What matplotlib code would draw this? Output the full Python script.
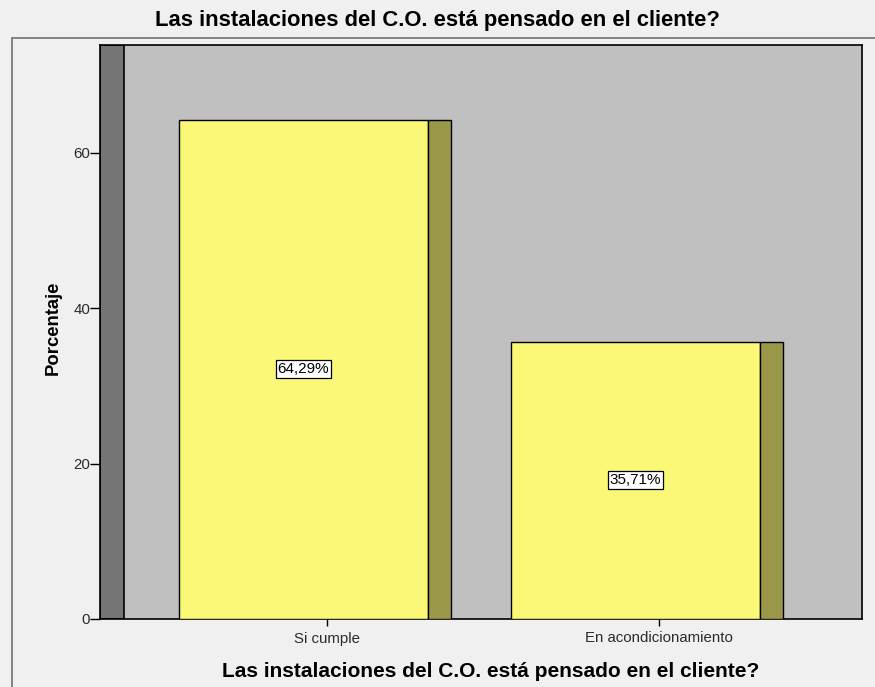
import matplotlib
matplotlib.use("Agg")
import matplotlib.pyplot as plt
from matplotlib.patches import Rectangle

categorias = ["Si cumple", "En acondicionamiento"]
porcentajes = [64.29, 35.71]
etiquetas = ["64,29%", "35,71%"]
yticks = [0, 20, 40, 60]
titulo = "Las instalaciones del C.O. está pensado en el cliente?"

plt.rcParams["font.family"] = ["Liberation Sans", "DejaVu Sans"]

fig = plt.figure(figsize=(8.75, 6.87), dpi=100, facecolor="#f0f0f0")
W, H = 875, 687
ax = fig.add_axes([100 / W, 1 - 619 / H, 762 / W, (619 - 45) / H])
ax.set_facecolor("#c0c0c0")

frente = 0.750   # ancho de la cara frontal
lado = 0.069     # ancho de la cara lateral (efecto 3D)
desfase = 0.446  # la barra empieza a la izquierda de la marca
xmin, xmax = -0.684, 1.611
ymax = 73.9
ax.set_xlim(xmin, xmax)
ax.set_ylim(0, ymax)

# pared izquierda oscura
ax.add_patch(Rectangle((xmin, 0), 0.072, ymax, facecolor="#757575",
                       edgecolor="black", linewidth=1.2, zorder=2))

for i, (v, txt) in enumerate(zip(porcentajes, etiquetas)):
    x0 = i - desfase
    ax.bar(x0, v, width=frente, align="edge", color="#fbf877",
           edgecolor="black", linewidth=1.0, zorder=3)
    ax.bar(x0 + frente, v, width=lado, align="edge", color="#9b984a",
           edgecolor="black", linewidth=1.0, zorder=3)
    ax.text(x0 + frente / 2, v / 2, txt, ha="center", va="center",
            fontsize=11, color="black", zorder=4,
            bbox=dict(boxstyle="square,pad=0.12", facecolor="white",
                      edgecolor="black", linewidth=0.9))

ax.set_yticks(yticks)
ax.set_xticks(range(len(categorias)))
ax.set_xticklabels(categorias, fontsize=10.8, color="#2a2a2a")
ax.tick_params(axis="y", length=7, width=1, labelsize=10.8, pad=0,
               labelcolor="#2a2a2a")
ax.tick_params(axis="x", length=5, width=1, pad=4)
for s in ax.spines.values():
    s.set_linewidth(1.2)
    s.set_color("black")

ax.set_ylabel("Porcentaje", fontsize=13.3, fontweight="bold")
ax.yaxis.set_label_coords(-0.050, 0.507)
ax.set_xlabel(titulo, fontsize=15, fontweight="bold", va="center")
ax.xaxis.set_label_coords(0.513, -0.0906)
fig.text(437 / W, 1 - 20.5 / H, titulo, ha="center", va="center",
         fontsize=15.8, fontweight="bold")

# marco exterior
fig.add_artist(Rectangle((12 / W, -0.05), 1.1, 1 - 38 / H + 0.05,
                         transform=fig.transFigure, fill=False,
                         edgecolor="#707070", linewidth=1.2))

fig.savefig("out.png", dpi=100, facecolor=fig.get_facecolor())
